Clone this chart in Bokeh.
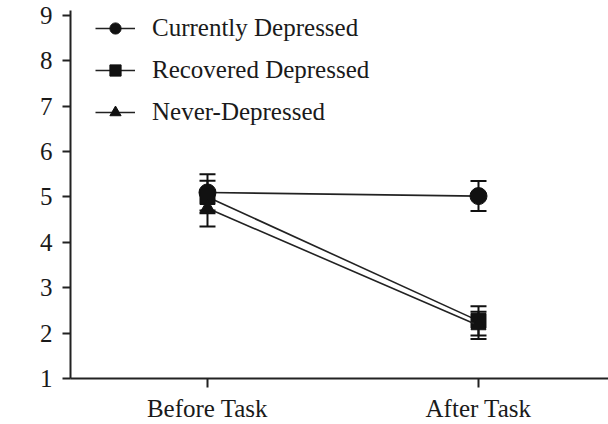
from bokeh.plotting import figure
from bokeh.models import Range1d, Whisker, ColumnDataSource, Legend, LegendItem, FixedTicker
from bokeh.embed import file_html
from bokeh.resources import INLINE

phases = ["Before Task", "After Task"]
x_pos = [0, 1]
groups = ["Currently Depressed", "Recovered Depressed", "Never-Depressed"]
means = {
    "Currently Depressed": [5.10, 5.02],
    "Recovered Depressed": [5.00, 2.27],
    "Never-Depressed": [4.75, 2.17],
}
errors = {
    "Currently Depressed": [0.40, 0.33],
    "Recovered Depressed": [0.36, 0.32],
    "Never-Depressed": [0.40, 0.30],
}
markers = {"Currently Depressed": "circle", "Recovered Depressed": "square", "Never-Depressed": "triangle"}
msizes = {"Currently Depressed": 17, "Recovered Depressed": 15, "Never-Depressed": 15}
yticks = [1, 2, 3, 4, 5, 6, 7, 8, 9]

FONT = "Liberation Serif"
FS = "25px"

p = figure(width=608, height=424, output_backend="svg", toolbar_location=None,
           x_range=Range1d(-0.5055, 1.4797), y_range=Range1d(1, 9.11),
           min_border_left=70, min_border_right=0, min_border_top=10, min_border_bottom=46)
p.outline_line_color = None
p.grid.visible = False
p.background_fill_color = "white"

items = []
for g in groups:
    src = ColumnDataSource(dict(x=x_pos, y=means[g],
                                lo=[m - e for m, e in zip(means[g], errors[g])],
                                hi=[m + e for m, e in zip(means[g], errors[g])]))
    w = Whisker(source=src, base="x", lower="lo", upper="hi", line_color="#111", line_width=2)
    for h in (w.upper_head, w.lower_head):
        h.size = 16
        h.line_width = 2
        h.line_color = "#111"
    p.add_layout(w)
    ln = p.line("x", "y", source=src, line_color="#222", line_width=1.6)
    sc = p.scatter("x", "y", source=src, marker=markers[g], size=msizes[g],
                   fill_color="#111", line_color="#111")
    items.append(LegendItem(label=g, renderers=[ln, sc]))

legend = Legend(items=items, location=(25, 252), orientation="vertical",
                label_text_font=FONT, label_text_font_size=FS, label_text_color="#1a1a1a",
                glyph_width=40, glyph_height=28, label_height=28, spacing=14,
                label_standoff=17, padding=0, margin=0,
                background_fill_alpha=0, border_line_color=None)
p.add_layout(legend)

p.xaxis.ticker = FixedTicker(ticks=x_pos)
p.xaxis.major_label_overrides = {x: lab for x, lab in zip(x_pos, phases)}
p.yaxis.ticker = FixedTicker(ticks=yticks)
for ax in (p.xaxis, p.yaxis):
    ax.axis_line_width = 2
    ax.axis_line_color = "#222"
    ax.major_tick_line_width = 2
    ax.major_tick_line_color = "#222"
    ax.major_tick_in = 0
    ax.minor_tick_line_color = None
    ax.major_label_text_font = FONT
    ax.major_label_text_font_size = FS
    ax.major_label_text_color = "#1a1a1a"
p.yaxis.major_tick_out = 8
p.xaxis.major_tick_out = 9
p.yaxis.major_label_standoff = 10
p.xaxis.major_label_standoff = 7

open("out.html", "w").write(file_html(p, INLINE))
